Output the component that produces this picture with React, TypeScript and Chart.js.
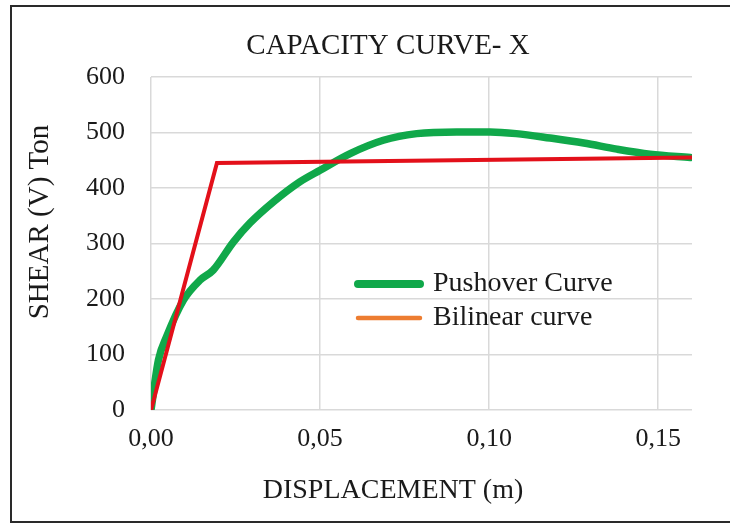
import React, { useEffect, useRef } from "react";
import { Chart, registerables } from "chart.js";

Chart.register(...registerables);

const pushoverX = [0, 0.0022, 0.0046, 0.0096, 0.0145, 0.0184, 0.0244, 0.0293, 0.0362, 0.044, 0.05, 0.0589, 0.0687, 0.0786, 0.0904, 0.1003, 0.108, 0.118, 0.128, 0.1378, 0.1476, 0.1595];
const pushoverY = [0, 90, 132, 198, 234, 252, 303, 337, 375, 411, 432, 462, 486, 498, 501, 501, 498, 490, 481, 470, 461, 455];
const bilinearX = [0, 0.0195, 0.16];
const bilinearY = [0, 445, 455];
const legendLabels = ["Pushover Curve", "Bilinear curve"];
const chartTitle = "CAPACITY CURVE- X";
const xTitle = "DISPLACEMENT (m)";
const yTitle = "SHEAR (V) Ton";

const FONT = "'Liberation Serif', 'Times New Roman', serif";
const GREEN = "#10A84A";
const RED = "#E3101A";
const ORANGE = "#ED7D31";
const TEXT = "#1a1a1a";

const framePlugin = {
  id: "frame",
  afterDraw(chart: any) {
    const ctx = chart.ctx;
    ctx.save();
    ctx.strokeStyle = "#2a2a2a";
    ctx.lineWidth = 2;
    ctx.strokeRect(11, 6, 740, 516);
    ctx.restore();
  },
};

const titlesPlugin = {
  id: "titles",
  afterDraw(chart: any) {
    const ctx = chart.ctx;
    ctx.save();
    ctx.fillStyle = TEXT;
    ctx.textAlign = "center";
    ctx.textBaseline = "middle";
    ctx.font = `29px ${FONT}`;
    ctx.fillText(chartTitle, 388, 46);
    ctx.font = `28px ${FONT}`;
    ctx.fillText(xTitle, 393, 491);
    ctx.translate(40, 222);
    ctx.rotate(-Math.PI / 2);
    ctx.font = `29px ${FONT}`;
    ctx.fillText(yTitle, 0, 0);
    ctx.restore();
  },
};

const legendPlugin = {
  id: "insideLegend",
  afterDatasetsDraw(chart: any) {
    const ctx = chart.ctx;
    const items = [
      { text: legendLabels[0], color: GREEN, width: 8, y: 284 },
      { text: legendLabels[1], color: ORANGE, width: 4.5, y: 318 },
    ];
    ctx.save();
    ctx.font = `28px ${FONT}`;
    ctx.textBaseline = "middle";
    ctx.textAlign = "left";
    for (const it of items) {
      ctx.beginPath();
      ctx.lineCap = "round";
      ctx.strokeStyle = it.color;
      ctx.lineWidth = it.width;
      ctx.moveTo(358, it.y);
      ctx.lineTo(420, it.y);
      ctx.stroke();
      ctx.fillStyle = TEXT;
      ctx.fillText(it.text, 433, it.y);
    }
    ctx.restore();
  },
};

export default function App() {
  const ref = useRef<HTMLCanvasElement | null>(null);
  useEffect(() => {
    if (!ref.current) return;
    const chart = new Chart(ref.current, {
      type: "line",
      data: {
        datasets: [
          {
            label: legendLabels[0],
            data: pushoverX.map((x, i) => ({ x, y: pushoverY[i] })),
            borderColor: GREEN,
            backgroundColor: GREEN,
            borderWidth: 7.5,
            pointRadius: 0,
            tension: 0.4,
            cubicInterpolationMode: "monotone",
            borderCapStyle: "round",
            order: 1,
          },
          {
            label: legendLabels[1],
            data: bilinearX.map((x, i) => ({ x, y: bilinearY[i] })),
            borderColor: RED,
            backgroundColor: ORANGE,
            borderWidth: 4,
            pointRadius: 0,
            tension: 0,
            order: 0,
          },
        ],
      },
      plugins: [framePlugin, legendPlugin, titlesPlugin],
      options: {
        animation: false,
        responsive: false,
        devicePixelRatio: 1,
        layout: { padding: { left: 14, right: 38, top: 77, bottom: 8 } },
        plugins: {
          legend: { display: false },
          tooltip: { enabled: false },
          title: { display: false },
        },
        scales: {
          x: {
            type: "linear",
            min: 0,
            max: 0.16,
            afterBuildTicks: (scale: any) => {
              scale.ticks = [0, 0.05, 0.1, 0.15].map((v) => ({ value: v }));
            },
            afterFit: (scale: any) => {
              scale.height = 107;
            },
            ticks: {
              color: TEXT,
              font: { family: FONT, size: 26 },
              padding: 14,
              maxRotation: 0,
              callback: (v: any) => Number(v).toFixed(2).replace(".", ","),
            },
            grid: { color: "#d9d9d9", lineWidth: 1.5, drawTicks: false },
            border: { display: false },
            title: { display: false },
          },
          y: {
            type: "linear",
            min: 0,
            max: 600,
            afterFit: (scale: any) => {
              scale.width = 137;
            },
            ticks: {
              stepSize: 100,
              color: TEXT,
              font: { family: FONT, size: 26 },
              padding: 26,
            },
            grid: { color: "#d9d9d9", lineWidth: 1.5, drawTicks: false },
            border: { display: false },
            title: { display: false },
          },
        },
      },
    } as any);
    return () => chart.destroy();
  }, []);
  return (
    <div style={{ position: "fixed", left: 0, top: 0, width: 730, height: 525, background: "#fff" }}>
      <canvas ref={ref} width={730} height={525} style={{ display: "block", width: 730, height: 525 }} />
    </div>
  );
}
